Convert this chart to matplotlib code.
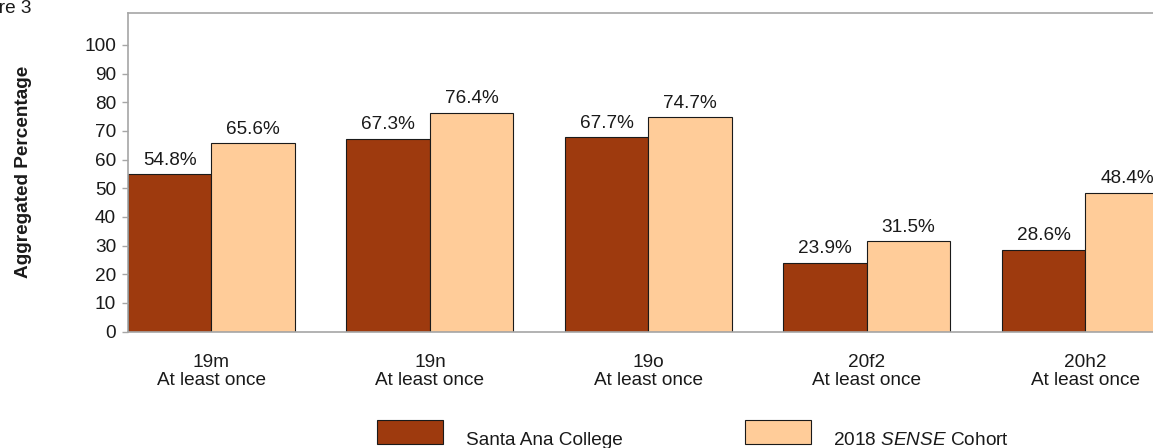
import matplotlib
matplotlib.use("Agg")
import matplotlib.pyplot as plt
from matplotlib.patches import Rectangle
import numpy as np

plt.rcParams['font.family'] = ['Liberation Sans', 'DejaVu Sans']
plt.rcParams['mathtext.fontset'] = 'custom'
plt.rcParams['mathtext.rm'] = 'Liberation Sans'
plt.rcParams['mathtext.it'] = 'Liberation Sans:italic'

categories = ["19m\nAt least once", "19n\nAt least once", "19o\nAt least once",
              "20f2\nAt least once", "20h2\nAt least once"]
college = [54.8, 67.3, 67.7, 23.9, 28.6]
cohort = [65.6, 76.4, 74.7, 31.5, 48.4]
series_names = ["Santa Ana College", r"2018 $\mathit{SENSE}$ Cohort"]
yticks = [0, 10, 20, 30, 40, 50, 60, 70, 80, 90, 100]

BROWN = "#9E3A0E"
TAN = "#FFCC99"
GRAY = "#A6A6A6"
FS = 13.7

W, H = 1153, 448
fig = plt.figure(figsize=(W / 100, H / 100), dpi=100)

w = 0.382
xmin, xmax = -w, 4.5
px_per_unit = 218.5
ax_left, ax_top, ax_bottom = 128, 12.5, 331.5
ax_w = (xmax - xmin) * px_per_unit
ax = fig.add_axes([ax_left / W, (H - ax_bottom) / H, ax_w / W, (ax_bottom - ax_top) / H])

x = np.arange(len(categories))
b1 = ax.bar(x - w / 2, college, w, color=BROWN, edgecolor="#1a1a1a", linewidth=0.8)
b2 = ax.bar(x + w / 2, cohort, w, color=TAN, edgecolor="#1a1a1a", linewidth=0.8)
ax.bar_label(b1, labels=[f"{v:.1f}%" for v in college], padding=4, fontsize=FS, color="#1a1a1a")
ax.bar_label(b2, labels=[f"{v:.1f}%" for v in cohort], padding=4, fontsize=FS, color="#1a1a1a")

ax.set_xlim(xmin, xmax)
ax.set_ylim(0, 111.3)
ax.set_yticks(yticks)
ax.set_yticklabels([str(t) for t in yticks], fontsize=FS, color="#1a1a1a")
ax.set_xticks(x)
ax.set_xticklabels(categories, fontsize=FS, color="#1a1a1a", linespacing=1.1)
ax.tick_params(axis='x', length=0, pad=16)
ax.tick_params(axis='y', length=4.5, width=1, color=GRAY, pad=4)
for s in ax.spines.values():
    s.set_color(GRAY)
    s.set_linewidth(1.2)

ax.set_ylabel("Aggregated Percentage", fontsize=FS, fontweight='bold', color="#1a1a1a",
              va='center')
ax.yaxis.set_label_coords((23 - ax_left) / ax_w, 0.5)

fig.text(32 / W, (H - 13) / H, "Figure 3", ha='right', va='baseline', fontsize=FS, color="#1a1a1a")

# legend
for (bx, tx), col, name in zip([(377, 466), (745, 833)], [BROWN, TAN], series_names):
    fig.patches.append(Rectangle((bx / W, (H - 444) / H), 66 / W, 24 / H,
                                 transform=fig.transFigure, facecolor=col,
                                 edgecolor="#1a1a1a", linewidth=0.8))
    fig.text(tx / W, (H - 445) / H, name, ha='left', va='baseline', fontsize=FS, color="#1a1a1a")

fig.savefig("out.png", dpi=100)
